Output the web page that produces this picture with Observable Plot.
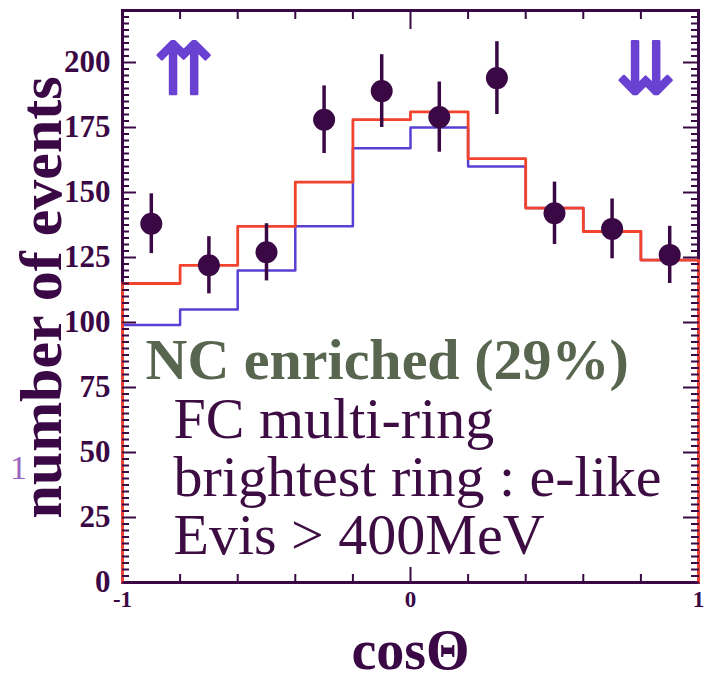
<!DOCTYPE html>
<html><head><meta charset="utf-8">
<script src="https://cdn.jsdelivr.net/npm/d3@7"></script>
<script src="https://cdn.jsdelivr.net/npm/@observablehq/plot@0.6"></script>
<style>html,body{margin:0;padding:0;background:#fff}</style>
</head><body><div id="chart"></div>
<script>
// ---- data ----
const binEdges = [-1, -0.8, -0.6, -0.4, -0.2, 0, 0.2, 0.4, 0.6, 0.8, 1];
const binCenters = [-0.9, -0.7, -0.5, -0.3, -0.1, 0.1, 0.3, 0.5, 0.7, 0.9];
const observed = [138, 122, 127, 178, 189, 179, 194, 142, 136, 126];
const observedErr = [11.5, 11, 11, 13, 14, 13.5, 14, 12, 11.5, 11];
const mcRed = [115, 122, 137, 154, 178, 181, 163, 144, 135, 124];
const mcBlue = [99, 105, 120, 137, 167, 175, 160, 144, 135, 124];
const yMajorTicks = [0, 25, 50, 75, 100, 125, 150, 175, 200];
const yTickLabels = ["0", "25", "50", "75", "100", "125", "150", "175", "200"];
const xLabelTicks = [-1, 0, 1];
const xTickLabels = ["-1", "0", "1"];
const xMinorTicks = [-0.8, -0.6, -0.4, -0.2, 0.2, 0.4, 0.6, 0.8];
const xZeroTick = [0];
const yMinorTicks = d3.range(0, 220, 2.5).filter(v => v % 25 !== 0);
const yTitle = "number of events";
const xTitle = "cos\u0398";
const selTitle = "NC enriched (29%)";
const selLines = "FC multi-ring\nbrightest ring : e-like\nEvis > 400MeV";

// ---- derived tables ----
function steps(vals) {
  const pts = [{x: binEdges[0], y: 0}];
  vals.forEach((v, i) => { pts.push({x: binEdges[i], y: v}); pts.push({x: binEdges[i + 1], y: v}); });
  pts.push({x: binEdges[binEdges.length - 1], y: 0});
  return pts;
}
const points = binCenters.map((c, i) => ({x: c, y: observed[i], lo: observed[i] - observedErr[i], hi: observed[i] + observedErr[i]}));

const ink = "#3a0845";
const serif = "Liberation Serif, Times New Roman, serif";
const red = "#f2432f";
const blue = "#5b3fd4";

const W = 715, H = 693, ML = 122, MR = 17, MT = 10, MB = 111;
const tk = {stroke: ink, strokeWidth: 2, fill: "none", label: null};

const chart = Plot.plot({
  width: W, height: H,
  marginLeft: ML, marginRight: MR, marginTop: MT, marginBottom: MB,
  x: {domain: [-1, 1]},
  y: {domain: [0, 220]},
  style: {background: "#fff"},
  marks: [
    Plot.frame({stroke: ink, strokeWidth: 3}),
    // tick labels
    Plot.axisY({ticks: yMajorTicks, tickSize: 0, tickPadding: 12, tickFormat: (d) => yTickLabels[yMajorTicks.indexOf(d)],
      fontSize: 31, fontWeight: "bold", fontFamily: serif, fill: ink, label: null}),
    Plot.axisX({ticks: xLabelTicks, tickSize: 0, tickPadding: 8, tickFormat: (d) => xTickLabels[xLabelTicks.indexOf(d)],
      fontSize: 23, fontWeight: "bold", fontFamily: serif, fill: ink, label: null}),
    // histograms
    Plot.line(steps(mcBlue), {x: "x", y: "y", stroke: blue, strokeWidth: 2.5}),
    Plot.line(steps(mcRed), {x: "x", y: "y", stroke: red, strokeWidth: 2.8}),
    // data
    Plot.ruleX(points, {x: "x", y1: "lo", y2: "hi", stroke: ink, strokeWidth: 3.5}),
    Plot.dot(points, {x: "x", y: "y", r: 11, fill: ink, stroke: "none"}),
    // titles
    Plot.text([yTitle], {frameAnchor: "left", dx: -62, dy: 1, rotate: -90, textAnchor: "middle", lineAnchor: "bottom",
      fontSize: 60, fontWeight: "bold", fontFamily: serif, fill: ink}),
    Plot.text([xTitle], {frameAnchor: "bottom", dx: 0, dy: 86, textAnchor: "middle", lineAnchor: "bottom",
      fontSize: 56, fontWeight: "bold", fontFamily: serif, fill: ink}),
    Plot.text(["1"], {frameAnchor: "left", dx: -104, dy: 172, textAnchor: "middle", lineAnchor: "middle",
      fontSize: 34, fontFamily: serif, fill: "#9a64c0"}),
    // annotations
    Plot.text([selTitle], {frameAnchor: "top-left", dx: 23, dy: 368, textAnchor: "start", lineAnchor: "bottom",
      fontSize: 58, fontWeight: "bold", fontFamily: serif, fill: "#586650"}),
    Plot.text([selLines], {frameAnchor: "top-left", dx: 51, dy: 386, textAnchor: "start", lineAnchor: "top", lineHeight: 1.0,
      fontSize: 58, fontFamily: serif, fill: "#3c0c42"}),
    Plot.text(["\u21c8"], {frameAnchor: "top-left", dx: 61, dy: 60, textAnchor: "middle", lineAnchor: "middle",
      fontSize: 72, fontFamily: "DejaVu Sans", fill: "#6a42d2", stroke: "#6a42d2", strokeWidth: 2.5}),
    Plot.text(["\u21ca"], {frameAnchor: "top-right", dx: -53, dy: 60, textAnchor: "middle", lineAnchor: "middle",
      fontSize: 72, fontFamily: "DejaVu Sans", fill: "#6a42d2", stroke: "#6a42d2", strokeWidth: 2.5}),
    // inward ticks, drawn last: axis ticks shifted inside the frame
    Plot.axisY({ticks: yMajorTicks, tickSize: 14, dx: 14, ...tk}),
    Plot.axisY({ticks: yMinorTicks, tickSize: 7, dx: 7, ...tk}),
    Plot.axisY({anchor: "right", ticks: yMajorTicks, tickSize: 16, dx: -16, ...tk}),
    Plot.axisY({anchor: "right", ticks: yMinorTicks, tickSize: 8, dx: -8, ...tk}),
    Plot.axisX({ticks: xMinorTicks, tickSize: 8, dy: -8, ...tk}),
    Plot.axisX({ticks: xZeroTick, tickSize: 15, dy: -15, ...tk}),
    Plot.axisX({anchor: "top", ticks: xMinorTicks, tickSize: 8, dy: 8, ...tk}),
    Plot.axisX({anchor: "top", ticks: xZeroTick, tickSize: 18, dy: 18, ...tk})
  ]
});
document.getElementById("chart").appendChild(chart);
</script>
</body></html>
